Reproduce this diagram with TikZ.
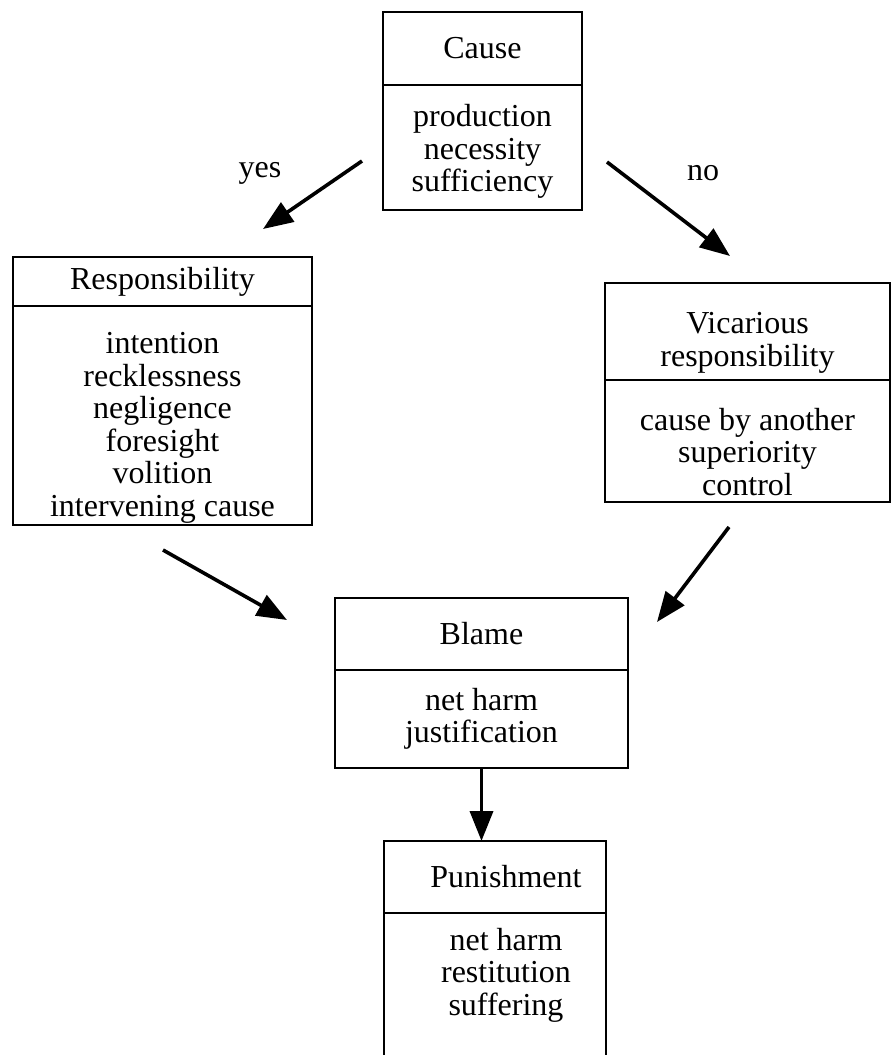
\documentclass[tikz,border=0pt]{standalone}
\usepackage{fontspec}
\setmainfont{Liberation Serif}
\usetikzlibrary{positioning,arrows.meta}

\newcommand{\shiftr}{\hspace*{22pt}}
\newcommand{\topgap}[1]{\rule{0pt}{#1}}

\begin{document}
\begin{tikzpicture}
[%%%%%%%%%%%%%%%%%%%%%%%%%%%%%%
x=1pt,y=-1pt,
font=\fontsize{32}{32.5}\selectfont,
box/.style={rectangle,draw=black,line width=2.2pt,align=center,inner sep=0pt,outer sep=0pt},
arr/.style={line width=3.6pt,-{Triangle[length=30pt,width=23pt]}},
]%%%%%%%%%%%%%%%%%%%%%%%%%%%%%%
\useasboundingbox (0,0) rectangle (891,1055);

\node[box,minimum width=199pt,minimum height=73pt] (causehead) at (482.5,48.5){Cause};
\node[box,minimum width=199pt,minimum height=125pt,below=0pt of causehead] (causebody)
  {\topgap{30pt}production\\necessity\\sufficiency};

\node[box,minimum width=299pt,minimum height=49pt] (resphead) at (162.5,281.5){Responsibility};
\node[box,minimum width=299pt,minimum height=219pt,below=0pt of resphead] (respbody)
  {\topgap{46pt}intention\\recklessness\\negligence\\foresight\\volition\\intervening cause};

\node[box,minimum width=285pt,minimum height=97pt] (vichead) at (747.5,331.5){\topgap{44pt}Vicarious\\responsibility};
\node[box,minimum width=285pt,minimum height=122pt,below=0pt of vichead] (vicbody)
  {\topgap{44pt}cause by another\\superiority\\control};

\node[box,minimum width=293pt,minimum height=72pt] (blamehead) at (481.5,634){Blame};
\node[box,minimum width=293pt,minimum height=98pt,below=0pt of blamehead] (blamebody)
  {net harm\\justification};

\node[box,minimum width=222pt,minimum height=72pt] (punhead) at (495,877){\shiftr Punishment};
\node[box,draw=none,minimum width=222pt,minimum height=124pt,below=0pt of punhead] (punbody)
  {\shiftr net harm\\\shiftr restitution\\\shiftr suffering};
\draw[line width=2.2pt] (punhead.south west) -- ++(0,170);
\draw[line width=2.2pt] (punhead.south east) -- ++(0,170);

% arrows between the boxes
\coordinate (yesfrom) at (362,161);
\coordinate (yesto) at (263,229);
\coordinate (nofrom) at (607,162);
\coordinate (noto) at (730,256);
\coordinate (respfrom) at (163,550);
\coordinate (respto) at (287,620);
\coordinate (vicfrom) at (729,527);
\coordinate (victo) at (657,622);

\draw[arr] (yesfrom) -- (yesto);
\draw[arr] (nofrom) -- (noto);
\draw[arr] (respfrom) -- (respto);
\draw[arr] (vicfrom) -- (victo);
\draw[arr] (blamebody.south) -- (blamebody.south |- punhead.north);

\node (yes) at (260,173){yes};
\node (no) at (703,173){no};
\end{tikzpicture}
\end{document}
